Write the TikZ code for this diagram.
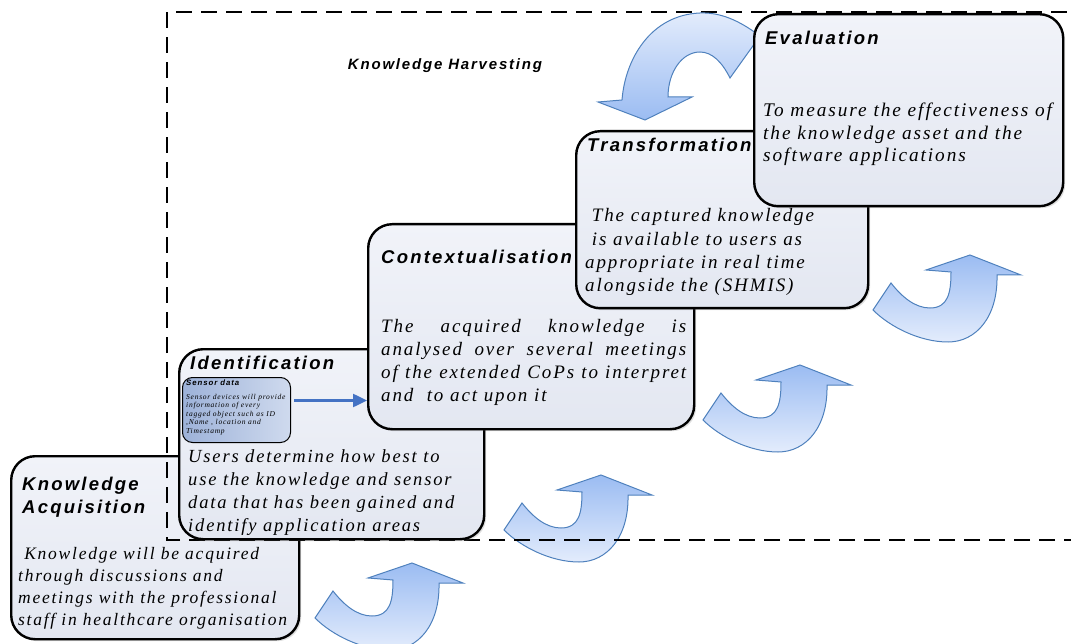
\documentclass[tikz,border=0pt]{standalone}
\usepackage{fontspec}
\setmainfont{Liberation Serif}
\newfontfamily\titlefont[LetterSpace=12]{Liberation Sans}
\newfontfamily\bodyfont[LetterSpace=10]{Liberation Serif}
\usetikzlibrary{arrows.meta,shadows}
\definecolor{boxtop}{HTML}{F1F3F9}
\definecolor{boxbot}{HTML}{E3E7F1}
\definecolor{sensL}{HTML}{9DB2D9}
\definecolor{sensR}{HTML}{CFDAEE}
\definecolor{linkblue}{HTML}{4472C4}
\definecolor{arrowdark}{HTML}{9BBCF2}
\definecolor{arrowlight}{HTML}{E3ECFC}
\definecolor{arrowline}{HTML}{4F81BD}
\begin{document}
\begin{tikzpicture}[x=1pt,y=-1pt,
  stagebox/.style={draw=black, line width=2.4pt, rounded corners=24pt,
    top color=boxtop, bottom color=boxbot, anchor=north west, inner sep=0pt,
    drop shadow={opacity=0.25, shadow xshift=2pt, shadow yshift=-2pt}},
  stagetitle/.style={font=\titlefont\bfseries\itshape\fontsize{18.5}{23}\selectfont,
    anchor=base west, inner sep=0pt, align=left},
  stagebody/.style={font=\bodyfont\itshape\fontsize{18.5}{22.7}\selectfont,
    anchor=base west, inner sep=0pt, align=left},
  sensorbox/.style={draw=black, line width=1pt, rounded corners=10pt,
    left color=sensL, right color=sensR, anchor=north west, inner sep=0pt},
  curvearrow/.style={draw=arrowline, line width=1pt, top color=arrowdark, bottom color=arrowlight},
  downcurve/.style={draw=arrowline, line width=1pt, top color=arrowlight, bottom color=arrowdark},
  frameline/.style={draw=black, line width=1.3pt, dash pattern=on 16pt off 9pt},
  linkarrow/.style={draw=linkblue, line width=2.5pt, -{Triangle[length=14pt,width=13pt]}},
  uparrow/.pic={\path[curvearrow] (0,0) -- (51,20) -- (27,20)
     .. controls (28,62) and (6,87) .. (-22,87)
     .. controls (-50,87) and (-80,72) .. (-97,55) -- (-79,28)
     .. controls (-68,42) and (-55,53) .. (-40,53)
     .. controls (-22,53) and (-19,38) .. (-19,17) -- (-44,15) -- cycle;}
]
\useasboundingbox (0,0) rectangle (1071,644);

% Knowledge Acquisition
\node[stagebox, minimum width=288pt, minimum height=183pt] (ka) at (10,455) {};
\node[stagetitle] (katitle) at (22,513) {Knowledge\\Acquisition};
\node[stagebody, font=\bodyfont\itshape\fontsize{17.5}{21.7}\selectfont] (katext) at (18,625)
  {\ Knowledge will be acquired\\through discussions and\\meetings with the professional\\staff in healthcare organisation};

% rising arrows
\pic at (412,563) {uparrow};
\pic at (601,475) {uparrow};
\pic at (800,365) {uparrow};
\pic at (970,255) {uparrow};

% harvesting frame
\path[frameline] (1080,540) -- (167,540) -- (167,12) -- (1080,12);
\node[font=\titlefont\bfseries\itshape\fontsize{15}{18}\selectfont, inner sep=0pt] (kh) at (445,66) {Knowledge Harvesting};

% Identification
\node[stagebox, minimum width=305pt, minimum height=190pt] (ident) at (178,348) {};
\node[stagetitle] (idtitle) at (190,370) {Identification};
\node[sensorbox, minimum width=108pt, minimum height=65pt] (sensor) at (182,377) {};
\node[font=\titlefont\bfseries\itshape\fontsize{7.8}{9}\selectfont, anchor=base west, inner sep=0pt] (sentitle) at (186,385) {Sensor data};
\node[stagebody, font=\bodyfont\itshape\fontsize{7.5}{8.5}\selectfont] (sentext) at (186,433)
  {Sensor devices will provide\\information of every\\tagged object such as ID\\,Name , location and\\Timestamp};
\node[stagebody] (idtext) at (188,531)
  {Users determine how best to\\use the knowledge and sensor\\data that has been gained and\\identify application areas};

% Contextualisation
\node[stagebox, minimum width=326pt, minimum height=205pt] (ctx) at (367,223) {};
\node[stagetitle] (ctxtitle) at (381,264) {Contextualisation};
\node[stagebody, font=\bodyfont\itshape\fontsize{19}{23}\selectfont, text width=305pt, align=justify] (ctxtext) at (381,333)
  {The acquired knowledge is\linebreak analysed over several meetings\linebreak of the extended CoPs to interpret\linebreak and\ \ to act upon it};

\coordinate (sa) at ([xshift=3pt,yshift=9.5pt]sensor.east);
\draw[linkarrow] (sa) -- (sa -| ctx.west);

% Transformation
\node[stagebox, minimum width=292pt, minimum height=177pt] (trans) at (575,130) {};
\node[stagetitle] (trtitle) at (587,152) {Transformation};
\node[stagebody, font=\bodyfont\itshape\fontsize{19}{23.5}\selectfont] (trtext) at (585,292)
  {\ The captured knowledge\\\ is available to users as\\appropriate in real time\\alongside the (SHMIS)};

% returning arrow
\path[downcurve] (645,120) -- (598,102) -- (622,100)
   .. controls (625,60) and (650,15) .. (700,13)
   .. controls (725,12) and (745,25) .. (760,36) -- (730,78)
   .. controls (722,62) and (712,52) .. (700,52)
   .. controls (682,52) and (668,72) .. (668,97) -- (692,97) -- cycle;

% Evaluation
\node[stagebox, minimum width=309pt, minimum height=192pt] (eval) at (753,13) {};
\node[stagetitle] (evtitle) at (765,45) {Evaluation};
\node[stagebody, font=\bodyfont\itshape\fontsize{19.3}{22.5}\selectfont] (evtext) at (763,162)
  {To measure the effectiveness of\\the knowledge asset and the\\software applications};
\end{tikzpicture}
\end{document}
